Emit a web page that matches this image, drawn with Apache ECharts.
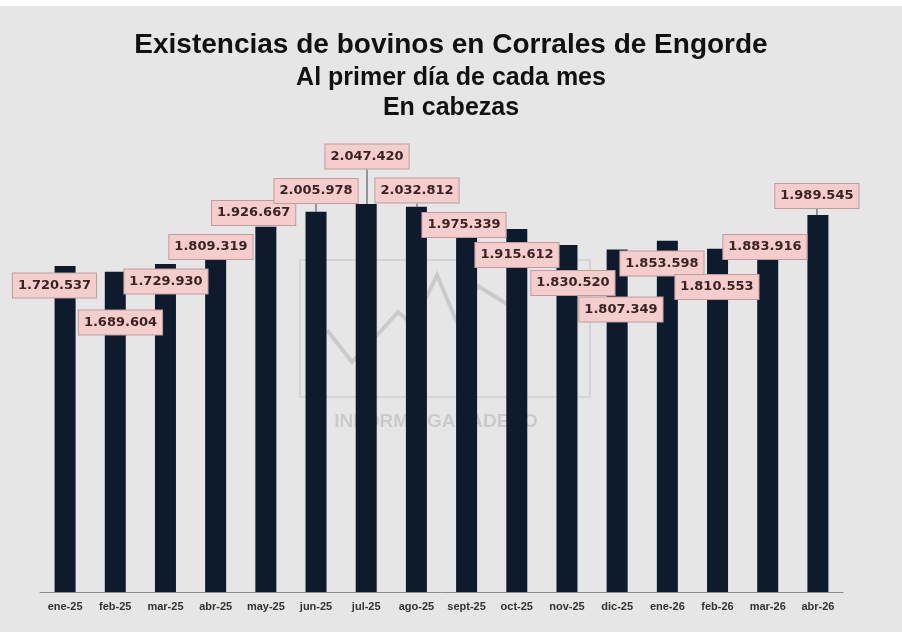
<!DOCTYPE html>
<html>
<head>
<meta charset="utf-8">
<script src="https://cdn.jsdelivr.net/npm/echarts@6/dist/echarts.min.js"></script>
<style>
  html, body { margin: 0; padding: 0; background: #e6e6e6; }
  #chart { width: 902px; height: 632px; }
</style>
</head>
<body>
<div id="chart"></div>
<script>
// ---- Data ----
const categories = ['ene-25','feb-25','mar-25','abr-25','may-25','jun-25','jul-25','ago-25','sept-25','oct-25','nov-25','dic-25','ene-26','feb-26','mar-26','abr-26'];
const cabezas = [1720537, 1689604, 1729930, 1809319, 1926667, 2005978, 2047420, 2032812, 1975339, 1915612, 1830520, 1807349, 1853598, 1810553, 1883916, 1989545];
const titleLines = ['Existencias de bovinos en Corrales de Engorde', 'Al primer día de cada mes', 'En cabezas'];

// ---- Label placement (style) ----
const labelOffsets = [
  [-10.6, 31.5], [5.2, 62.7], [0.5, 29.3], [-4.7, 9.9], [-12.2, -1.9], [0, -8.9],
  [0.8, -35.5], [0.6, -4.3], [-2.6, 19.3], [0.2, 38], [6, 49.9], [3.8, 72],
  [-5.4, 34.8], [-0.6, 50.1], [-2.8, 24], [-1, -7]
];
const leaderLines = [5, 6, 7, 15];

function fmt(v) {
  return String(v).replace(/\B(?=(\d{3})+(?!\d))/g, '.');
}

const chart = echarts.init(document.getElementById('chart'), null, { renderer: 'canvas' });

const seriesData = cabezas.map((v, i) => ({
  value: v,
  labelLine: { show: leaderLines.indexOf(i) >= 0 }
}));

chart.setOption({
  backgroundColor: '#e6e6e6',
  animation: false,
  title: [
    { text: titleLines[0], left: 'center', top: 26,
      textStyle: { fontFamily: 'Liberation Sans, Arial, sans-serif', fontWeight: 'bold', fontSize: 28, color: '#111' } },
    { text: titleLines[1], left: 'center', top: 61,
      textStyle: { fontFamily: 'Liberation Sans, Arial, sans-serif', fontWeight: 'bold', fontSize: 25, color: '#111' } },
    { text: titleLines[2], left: 'center', top: 91,
      textStyle: { fontFamily: 'Liberation Sans, Arial, sans-serif', fontWeight: 'bold', fontSize: 25, color: '#111' } }
  ],
  graphic: [
    { type: 'rect', left: 0, top: 0, z: 0, shape: { width: 902, height: 6 }, style: { fill: '#ffffff' } },
    { type: 'rect', z: 0, shape: { x: 300, y: 260, width: 290, height: 137 },
      style: { fill: 'none', stroke: 'rgba(0,0,0,0.07)', lineWidth: 2 } },
    { type: 'polyline', z: 0, shape: { points: [[327,330],[352,362],[380,332],[398,312],[413,325],[437,275],[456,320],[478,286],[510,306]] },
      style: { fill: 'none', stroke: 'rgba(0,0,0,0.12)', lineWidth: 4 } },
    { type: 'text', z: 0, x: 436, y: 422,
      style: { text: 'INFORME GANADERO', fill: 'rgba(0,0,0,0.12)', font: 'bold 19px "Liberation Sans", Arial, sans-serif',
        align: 'center', verticalAlign: 'middle' } }
  ],
  grid: { left: 40, right: 59, top: 175, bottom: 40, containLabel: false },
  xAxis: {
    type: 'category',
    data: categories,
    axisLine: { show: true, lineStyle: { color: '#8a8a8a', width: 1 } },
    axisTick: { show: false },
    axisLabel: { interval: 0, margin: 9, color: '#333', fontWeight: 'bold', fontSize: 11,
      fontFamily: 'Liberation Sans, Arial, sans-serif' }
  },
  yAxis: {
    type: 'value', min: 0, max: 2200000, show: false,
    splitLine: { show: false }
  },
  series: [{
    type: 'bar',
    data: seriesData,
    barWidth: 21,
    z: 2,
    itemStyle: { color: '#0e1b2d' },
    label: {
      show: true,
      position: 'top',
      distance: 0,
      formatter: p => fmt(p.value),
      fontFamily: 'DejaVu Sans, sans-serif',
      fontWeight: 'bold',
      fontSize: 13,
      lineHeight: 16,
      color: '#3a2323',
      backgroundColor: '#f6cdcd',
      borderColor: '#bf9c9c',
      borderWidth: 1,
      padding: [4, 5]
    },
    labelLine: { show: false, lineStyle: { color: '#7a7a7a', width: 1.5 } },
    labelLayout: function (params) {
      const o = labelOffsets[params.dataIndex];
      return { dx: o[0], dy: o[1], hideOverlap: false };
    }
  }]
});
</script>
</body>
</html>
